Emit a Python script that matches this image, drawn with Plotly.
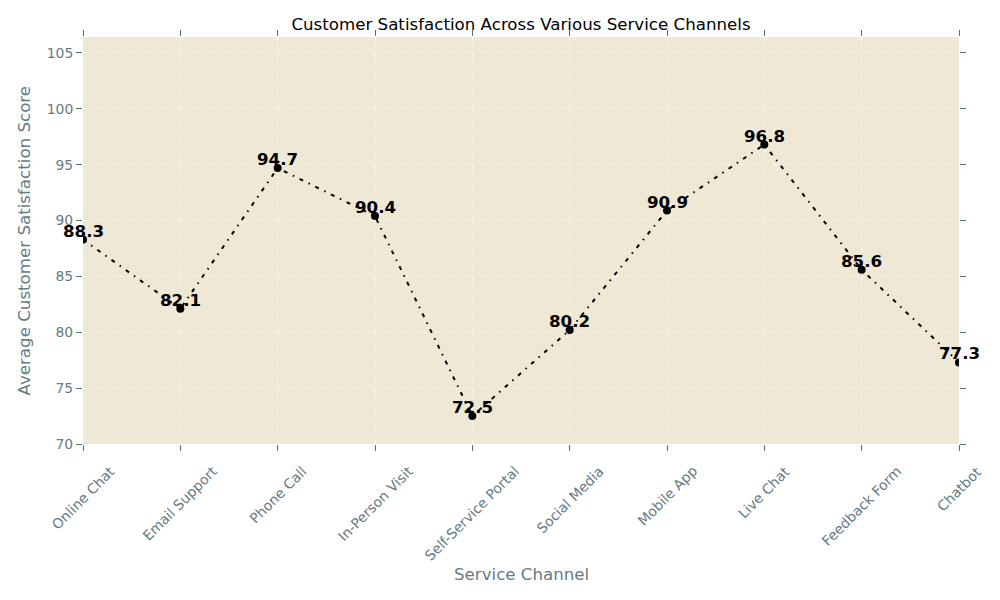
import plotly.graph_objects as go

channels = ["Online Chat", "Email Support", "Phone Call", "In-Person Visit", "Self-Service Portal",
            "Social Media", "Mobile App", "Live Chat", "Feedback Form", "Chatbot"]
scores = [88.3, 82.1, 94.7, 90.4, 72.5, 80.2, 90.9, 96.8, 85.6, 77.3]
y_ticks = [70, 75, 80, 85, 90, 95, 100, 105]

FONT = "DejaVu Sans"
LBL = "#657b83"
TCK = "#586e75"
GRID = "rgba(255,255,255,0.6)"

xs = list(range(len(channels)))

fig = go.Figure()
fig.add_trace(go.Scatter(
    x=xs, y=scores, mode="lines+markers",
    line=dict(color="black", width=2, dash="4px,6px,1.5px,6px"),
    marker=dict(color="black", size=8),
    cliponaxis=True, hoverinfo="skip",
))

plot_w = 1000 - 83 - 41
plot_h = 600 - 37 - 156

annotations = []
for i, v in enumerate(scores):
    annotations.append(dict(x=i, y=v, xref="x", yref="y", text=f"{v}", showarrow=False,
                            xanchor="center", yanchor="bottom", yshift=-3,
                            font=dict(family=FONT, size=16.67, color="black", weight="bold")))
for i, c in enumerate(channels):
    annotations.append(dict(x=i, y=-0.04, xref="x", yref="paper", text=c, showarrow=False,
                            xanchor="center", yanchor="top", textangle=-45,
                            font=dict(family=FONT, size=13.9, color=LBL)))
annotations.append(dict(x=0.5, y=-(574 - 444) / plot_h, xref="paper", yref="paper",
                        text="Service Channel", showarrow=False, yanchor="middle",
                        font=dict(family=FONT, size=16.67, color=LBL)))
annotations.append(dict(x=-(83 - 24) / plot_w, y=0.5, xref="paper", yref="paper",
                        text="Average Customer Satisfaction Score", showarrow=False, textangle=-90,
                        xanchor="center", yanchor="middle",
                        font=dict(family=FONT, size=16.67, color=LBL)))

fig.update_layout(
    width=1000, height=600,
    margin=dict(l=83, r=41, t=37, b=156),
    paper_bgcolor="white", plot_bgcolor="#eee8d5",
    showlegend=False,
    title=dict(text="Customer Satisfaction Across Various Service Channels", x=0.521, xanchor="center",
               y=1 - 24 / 600, yanchor="middle", font=dict(family=FONT, size=16.67, color="black")),
    font=dict(family=FONT, size=13.9, color=LBL),
    annotations=annotations,
)

fig.update_xaxes(range=[0, 9], tickvals=xs, showticklabels=False, ticks="outside", ticklen=6,
                 tickcolor=TCK, tickwidth=1, mirror="ticks", showline=False, zeroline=False,
                 showgrid=True, gridcolor=GRID, griddash="8px,8px", gridwidth=1)
fig.update_yaxes(range=[70, 106.43], tickvals=y_ticks, ticks="outside", ticklen=6,
                 tickcolor=TCK, tickwidth=1, mirror="ticks", showline=False, zeroline=False,
                 showgrid=True, gridcolor=GRID, griddash="8px,8px", gridwidth=1,
                 tickfont=dict(family=FONT, size=13.9, color=LBL))

fig.write_html("out.html")
